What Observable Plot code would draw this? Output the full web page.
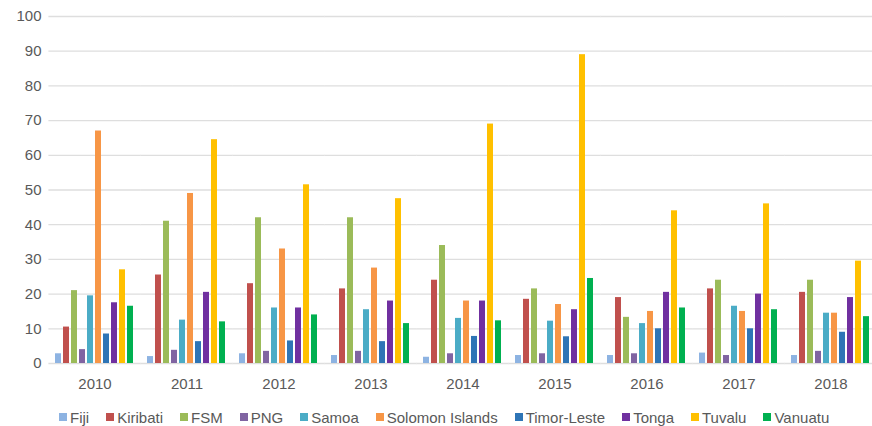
<!DOCTYPE html>
<html>
<head>
<meta charset="utf-8">
<script src="https://cdn.jsdelivr.net/npm/d3@7"></script>
<script src="https://cdn.jsdelivr.net/npm/@observablehq/plot@0.6"></script>
<style>
  html, body { margin: 0; padding: 0; background: #fff; }
  #chart { width: 872px; }
  .legend { display: flex; justify-content: flex-start; font: 15px "Liberation Sans", sans-serif; color: #595959; height: 26px; align-items: center; padding-left: 59px; margin-top: 4px; white-space: nowrap; }
  .legend span.sw { display: inline-block; width: 8px; height: 8px; margin-right: 3px; }
  .legend .item { display: flex; align-items: center; margin-right: 17px; }
</style>
</head>
<body>
<div id="chart"></div>
<script>
const years = ["2010","2011","2012","2013","2014","2015","2016","2017","2018"];
const countries = ["Fiji","Kiribati","FSM","PNG","Samoa","Solomon Islands","Timor-Leste","Tonga","Tuvalu","Vanuatu"];
const colors = ["#8db3e2","#c0504d","#9bbb59","#8064a2","#4bacc6","#f79646","#2e75b6","#7030a0","#ffc000","#00b050"];
const yTicks = [0,10,20,30,40,50,60,70,80,90,100];

const fiji      = [2.8, 2.0, 2.8, 2.3, 1.8, 2.3, 2.3, 3.0, 2.3];
const kiribati  = [10.5, 25.5, 23.0, 21.5, 24.0, 18.5, 19.0, 21.5, 20.5];
const fsm       = [21.0, 41.0, 42.0, 42.0, 34.0, 21.5, 13.3, 24.0, 24.0];
const png       = [4.0, 3.8, 3.5, 3.5, 2.8, 2.8, 2.8, 2.3, 3.5];
const samoa     = [19.5, 12.5, 16.0, 15.5, 13.0, 12.2, 11.5, 16.5, 14.5];
const solomon   = [67.0, 49.0, 33.0, 27.5, 18.0, 17.0, 15.0, 15.0, 14.5];
const timor     = [8.5, 6.3, 6.5, 6.3, 7.8, 7.7, 10.0, 10.0, 9.0];
const tonga     = [17.5, 20.5, 16.0, 18.0, 18.0, 15.5, 20.5, 20.0, 19.0];
const tuvalu    = [27.0, 64.5, 51.5, 47.5, 69.0, 89.0, 44.0, 46.0, 29.5];
const vanuatu   = [16.5, 12.0, 14.0, 11.5, 12.3, 24.5, 16.0, 15.5, 13.5];

const series = [fiji, kiribati, fsm, png, samoa, solomon, timor, tonga, tuvalu, vanuatu];
const data = [];
years.forEach((yr, i) => {
  countries.forEach((c, j) => data.push({year: yr, country: c, value: series[j][i]}));
});

const chart = Plot.plot({
  width: 872,
  height: 400,
  marginLeft: 47,
  marginRight: 2,
  marginTop: 16,
  marginBottom: 37,
  style: { fontFamily: "'Liberation Sans', sans-serif", fontSize: "15px", color: "#595959" },
  fx: { domain: years, paddingInner: 0.141, paddingOuter: 0.038, align: 1, label: null, axis: "bottom", tickSize: 0, tickPadding: 15 },
  x: { domain: countries, paddingInner: 0.2, paddingOuter: 0, axis: null },
  y: { domain: [0, 100], ticks: yTicks, label: null, tickSize: 0, tickPadding: 14 },
  color: { domain: countries, range: colors },
  marks: [
    Plot.ruleY(yTicks, { stroke: "#dedede", strokeWidth: 1.3, insetLeft: -6.6, insetRight: -6.6 }),
    Plot.barY(data, { fx: "year", x: "country", y: "value", fill: "country" })
  ]
});
document.getElementById("chart").appendChild(chart);

const legend = document.createElement("div");
legend.className = "legend";
countries.forEach((c, j) => {
  const it = document.createElement("div");
  it.className = "item";
  const sw = document.createElement("span");
  sw.className = "sw";
  sw.style.background = colors[j];
  it.appendChild(sw);
  it.appendChild(document.createTextNode(c));
  legend.appendChild(it);
});
document.getElementById("chart").appendChild(legend);
</script>
</body>
</html>
